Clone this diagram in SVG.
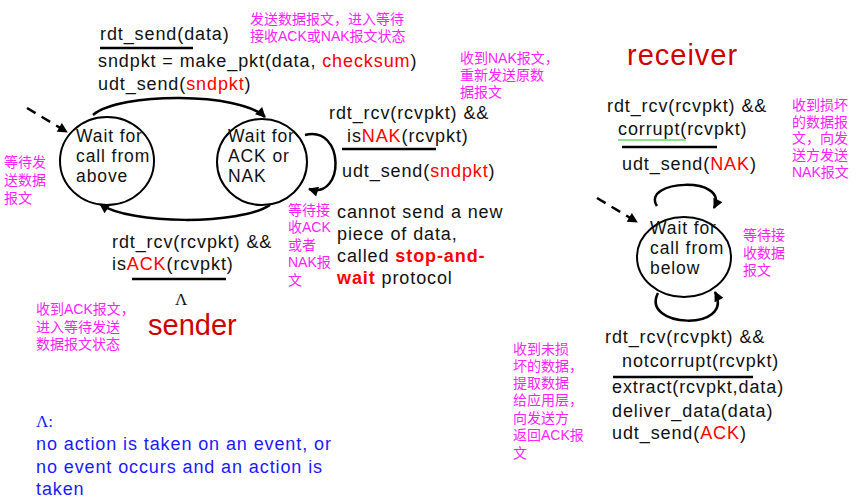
<svg xmlns="http://www.w3.org/2000/svg" width="858" height="503" viewBox="0 0 858 503">
<style>
  .t { font-family: "Liberation Sans", Arial, sans-serif; font-size: 18px; letter-spacing: 0.9px; fill: #111; }
  .s { font-size: 17.5px; }
  .r { fill: #ff0000; }
  .cn { font-family: "Liberation Sans", "Noto Sans CJK SC", sans-serif; font-size: 14px; fill: #ff22ff; }
  .big { font-family: "Liberation Sans", Arial, sans-serif; font-size: 29px; fill: #cc0000; }
  .blue { font-family: "Liberation Sans", Arial, sans-serif; font-size: 18px; letter-spacing: 0.9px; fill: #1a1aff; }
  .lam { font-family: "Liberation Serif", serif; font-size: 17px; letter-spacing: 0; }
  .state { fill: #fff; stroke: #000; stroke-width: 2; }
  .edge { fill: none; stroke: #000; stroke-width: 2.5; marker-end: url(#arr); }
  .dash { stroke-dasharray: 10 7; }
  .bar { stroke: #000; stroke-width: 2.5; }
</style>
<defs>
  <marker id="arr" viewBox="0 0 10 10" refX="9" refY="5" markerWidth="11" markerHeight="10" markerUnits="userSpaceOnUse" orient="auto">
    <path d="M0,0 L10,5 L0,10 z" fill="#000"/>
  </marker>
</defs>
<rect width="858" height="503" fill="#fff"/>

<g id="connectors">
  <path class="edge" d="M 93 115 C 120 92, 240 92, 265 117"/>
  <path class="edge" d="M 270 205 C 240 225, 130 225, 100 204"/>
  <path class="edge" d="M 305 135 C 345 125, 345 200, 309 189"/>
  <path class="edge dash" d="M 27 108 L 67 132"/>
  <path class="edge" d="M 657 206 C 640 180, 730 175, 714 208"/>
  <path class="edge" d="M 658 293 C 640 328, 735 332, 715 292"/>
  <path class="edge dash" d="M 597 198 L 637 222"/>
</g>

<g id="sender-call">
  <ellipse class="state" cx="107" cy="161" rx="47" ry="44"/>
  <text class="t s" x="76" y="142">Wait for</text>
  <text class="t s" x="76" y="162">call from</text>
  <text class="t s" x="76" y="182">above</text>
</g>

<g id="sender-wait">
  <ellipse class="state" cx="262" cy="162" rx="45" ry="43"/>
  <text class="t s" x="228" y="142">Wait for</text>
  <text class="t s" x="228" y="162">ACK or</text>
  <text class="t s" x="228" y="182">NAK</text>
</g>

<g id="receiver-wait">
  <ellipse class="state" cx="684" cy="257" rx="47" ry="40"/>
  <text class="t s" x="650" y="234">Wait for</text>
  <text class="t s" x="650" y="254">call from</text>
  <text class="t s" x="650" y="274">below</text>
</g>

<g id="labels">
  <text class="t" x="100" y="40">rdt_send(data)</text>
  <line class="bar" x1="100" y1="48" x2="193" y2="48"/>
  <text class="t" x="98" y="67">sndpkt = make_pkt(data, <tspan class="r">checksum</tspan>)</text>
  <text class="t" x="98" y="90">udt_send(<tspan class="r">sndpkt</tspan>)</text>

  <text class="t" x="329" y="119">rdt_rcv(rcvpkt) &amp;&amp;</text>
  <text class="t" x="347" y="142">is<tspan class="r">NAK</tspan>(rcvpkt)</text>
  <line class="bar" x1="342" y1="149" x2="436" y2="149"/>
  <text class="t" x="342" y="177">udt_send(<tspan class="r">sndpkt</tspan>)</text>

  <text class="t" x="337" y="218">cannot send a new</text>
  <text class="t" x="337" y="240">piece of data,</text>
  <text class="t" x="337" y="262">called <tspan class="r" font-weight="bold">stop-and-</tspan></text>
  <text class="t" x="337" y="284"><tspan class="r" font-weight="bold">wait</tspan> protocol</text>

  <text class="t" x="112" y="248">rdt_rcv(rcvpkt) &amp;&amp;</text>
  <text class="t" x="112" y="270">is<tspan class="r">ACK</tspan>(rcvpkt)</text>
  <line class="bar" x1="132" y1="279" x2="226" y2="279"/>
  <text class="t lam" x="175" y="305">Λ</text>
  <text class="big" x="148" y="335">sender</text>

  <text class="big" x="627" y="65" letter-spacing="1">receiver</text>
  <text class="t" x="607" y="112">rdt_rcv(rcvpkt) &amp;&amp;</text>
  <text class="t" x="618" y="135">corrupt(rcvpkt)</text>
  <line x1="618" y1="140" x2="686" y2="140" stroke="#66dd66" stroke-width="1.5"/>
  <line class="bar" x1="622" y1="147" x2="717" y2="147"/>
  <text class="t" x="622" y="170">udt_send(<tspan class="r">NAK</tspan>)</text>

  <text class="t" x="605" y="343">rdt_rcv(rcvpkt) &amp;&amp;</text>
  <text class="t" x="622" y="367">notcorrupt(rcvpkt)</text>
  <line class="bar" x1="613" y1="377" x2="753" y2="377"/>
  <text class="t" x="612" y="393">extract(rcvpkt,data)</text>
  <text class="t" x="612" y="417">deliver_data(data)</text>
  <text class="t" x="612" y="439">udt_send(<tspan class="r">ACK</tspan>)</text>

  <text class="blue lam" x="36" y="427">Λ:</text>
  <text class="blue" x="36" y="450">no action is taken on an event, or</text>
  <text class="blue" x="36" y="473">no event occurs and an action is</text>
  <text class="blue" x="36" y="495">taken</text>

  <text class="cn" x="250" y="24">发送数据报文，进入等待</text>
  <text class="cn" x="250" y="41">接收ACK或NAK报文状态</text>

  <text class="cn" x="460" y="63">收到NAK报文，</text>
  <text class="cn" x="460" y="80">重新发送原数</text>
  <text class="cn" x="460" y="97">据报文</text>

  <text class="cn" x="4" y="167">等待发</text>
  <text class="cn" x="4" y="185">送数据</text>
  <text class="cn" x="4" y="203">报文</text>

  <text class="cn" x="288" y="215">等待接</text>
  <text class="cn" x="288" y="232">收ACK</text>
  <text class="cn" x="288" y="250">或者</text>
  <text class="cn" x="288" y="267">NAK报</text>
  <text class="cn" x="288" y="285">文</text>

  <text class="cn" x="36" y="314">收到ACK报文，</text>
  <text class="cn" x="36" y="332">进入等待发送</text>
  <text class="cn" x="36" y="349">数据报文状态</text>

  <text class="cn" x="792" y="110">收到损坏</text>
  <text class="cn" x="792" y="127">的数据报</text>
  <text class="cn" x="792" y="143">文，向发</text>
  <text class="cn" x="792" y="160">送方发送</text>
  <text class="cn" x="792" y="177">NAK报文</text>

  <text class="cn" x="743" y="240">等待接</text>
  <text class="cn" x="743" y="258">收数据</text>
  <text class="cn" x="743" y="275">报文</text>

  <text class="cn" x="513" y="354">收到未损</text>
  <text class="cn" x="513" y="371">坏的数据，</text>
  <text class="cn" x="513" y="388">提取数据</text>
  <text class="cn" x="513" y="405">给应用层，</text>
  <text class="cn" x="513" y="423">向发送方</text>
  <text class="cn" x="513" y="440">返回ACK报</text>
  <text class="cn" x="513" y="458">文</text>
</g>
</svg>
